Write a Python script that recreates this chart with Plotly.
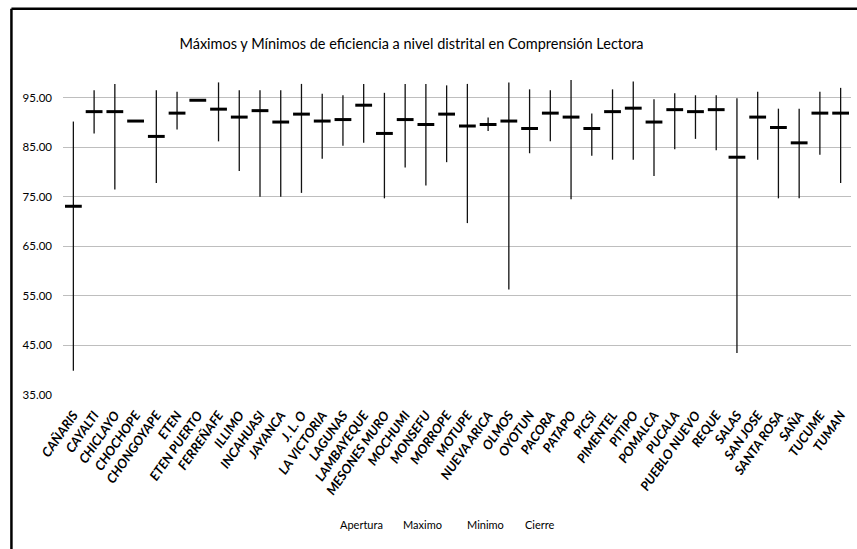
import plotly.graph_objects as go

# Distritos y eficiencia (máximo, mínimo, cierre) en Comprensión Lectora
distritos = [
    "CAÑARIS", "CAYALTI", "CHICLAYO", "CHOCHOPE", "CHONGOYAPE", "ETEN",
    "ETEN PUERTO", "FERREÑAFE", "ILLIMO", "INCAHUASI", "JAYANCA", "J. L. O",
    "LA VICTORIA", "LAGUNAS", "LAMBAYEQUE", "MESONES MURO", "MOCHUMI",
    "MONSEFU", "MORROPE", "MOTUPE", "NUEVA ARICA", "OLMOS", "OYOTUN",
    "PACORA", "PATAPO", "PICSI", "PIMENTEL", "PITIPO", "POMALCA", "PUCALA",
    "PUEBLO NUEVO", "REQUE", "SALAS", "SAN JOSE", "SANTA ROSA", "SAÑA",
    "TUCUME", "TUMAN",
]
maximo = [
    90.2, 96.5, 97.8, 90.3, 96.5, 96.2, 94.5, 98.1, 96.5, 96.5, 96.5, 97.8,
    95.8, 95.5, 97.8, 96.0, 97.8, 97.8, 97.5, 97.8, 91.0, 98.1, 96.7, 96.5,
    98.6, 91.8, 96.7, 98.3, 94.7, 95.9, 95.5, 95.5, 94.9, 96.2, 92.8, 92.8,
    96.2, 97.0,
]
minimo = [
    39.9, 87.8, 76.5, 90.3, 77.8, 88.6, 94.5, 86.2, 80.2, 75.0, 75.0, 75.8,
    82.7, 85.3, 85.9, 74.7, 80.9, 77.3, 82.0, 69.7, 88.3, 56.3, 83.8, 86.2,
    74.5, 83.3, 82.5, 82.5, 79.2, 84.6, 86.7, 84.4, 43.5, 82.5, 74.7, 74.7,
    83.5, 77.8,
]
cierre = [
    73.1, 92.2, 92.2, 90.3, 87.2, 91.9, 94.5, 92.7, 91.1, 92.4, 90.1, 91.7,
    90.3, 90.6, 93.5, 87.8, 90.6, 89.6, 91.7, 89.3, 89.6, 90.3, 88.8, 91.9,
    91.1, 88.8, 92.2, 92.9, 90.1, 92.6, 92.2, 92.6, 83.0, 91.1, 89.0, 85.9,
    91.9, 91.9,
]
leyenda = ["Apertura", "Maximo", "Minimo", "Cierre"]
y_ticks = [35, 45, 55, 65, 75, 85, 95]

FONT = "Lato, DejaVu Sans Condensed, sans-serif"

# vertical high-low segments, separated by gaps
seg_x, seg_y = [], []
for d, hi, lo in zip(distritos, maximo, minimo):
    seg_x += [d, d, None]
    seg_y += [lo, hi, None]

fig = go.Figure()
fig.add_trace(go.Scatter(
    x=seg_x, y=seg_y, mode="lines",
    line=dict(color="#111111", width=1.3),
    hoverinfo="skip", showlegend=False,
))
fig.add_trace(go.Scatter(
    x=distritos, y=cierre, mode="markers",
    marker=dict(symbol="line-ew", size=12,
                line=dict(color="#000000", width=3)),
    showlegend=False, name="Cierre",
))

# plot area geometry (pixels)
W, H = 857, 549
L, R, T, B = 62.6, 6, 72.5, 153.7
pw, ph = W - L - R, H - T - B


def px_x(x):
    return (x - L) / pw


def px_y(y):
    return (H - B - y) / ph


# legend labels without symbols
for name, cx in zip(leyenda, [361, 422, 485, 540]):
    fig.add_annotation(
        x=px_x(cx), y=px_y(525), xref="paper", yref="paper",
        text=name, showarrow=False, xanchor="center", yanchor="middle",
        font=dict(family=FONT, size=11, color="#000000"),
    )

# chart frame (left and top edges)
fig.add_shape(type="line", xref="paper", yref="paper",
              x0=px_x(11), x1=px_x(11), y0=px_y(8), y1=px_y(560),
              line=dict(color="#000000", width=2.5))
fig.add_shape(type="line", xref="paper", yref="paper",
              x0=px_x(11), x1=px_x(870), y0=px_y(8), y1=px_y(8),
              line=dict(color="#000000", width=2.5))

fig.update_layout(
    width=W, height=H,
    margin=dict(l=L, r=R, t=T, b=B),
    paper_bgcolor="white", plot_bgcolor="white",
    title=dict(
        text="Máximos y Mínimos de eficiencia a nivel distrital en Comprensión Lectora",
        x=411.5 / W, y=1 - 44 / H, xref="container", yref="container",
        xanchor="center", yanchor="middle",
        font=dict(family=FONT, size=14.5, color="#000000"),
    ),
    xaxis=dict(
        type="category", categoryorder="array", categoryarray=distritos,
        range=[-0.5, len(distritos) - 0.5],
        tickangle=-55, showgrid=False, zeroline=False, showline=False,
        ticks="", ticklen=0, ticklabelstandoff=9,
        tickfont=dict(family=FONT, size=13, color="#000000",
                      weight="bold", style="italic"),
    ),
    yaxis=dict(
        range=[35, 100], tickvals=y_ticks,
        ticktext=[f"{v:.2f}" for v in y_ticks],
        showgrid=True, gridcolor="#BEBEBE", gridwidth=1.2,
        zeroline=False, showline=False, ticks="", ticklabelstandoff=10,
        tickfont=dict(family=FONT, size=11.5, color="#000000"),
    ),
)

fig.write_html("out.html")
